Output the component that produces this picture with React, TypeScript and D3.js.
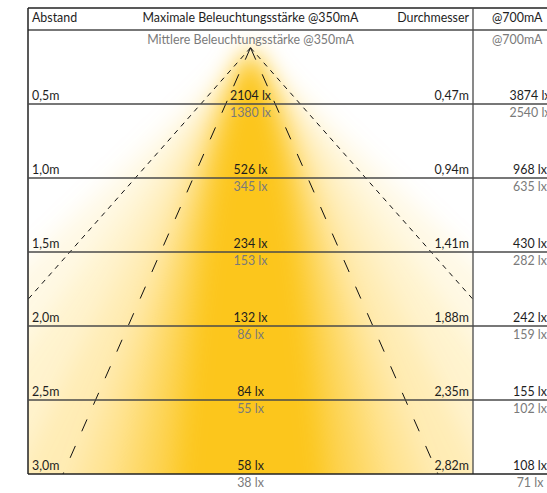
import React from "react";
import * as d3 from "d3";

const distances = ["0,5m", "1,0m", "1,5m", "2,0m", "2,5m", "3,0m"];
const distanceValues = [0.5, 1.0, 1.5, 2.0, 2.5, 3.0];
const max350 = [2104, 526, 234, 132, 84, 58];
const mean350 = [1380, 345, 153, 86, 55, 38];
const diameters = ["0,47m", "0,94m", "1,41m", "1,88m", "2,35m", "2,82m"];
const max700 = [3874, 968, 430, 242, 155, 108];
const mean700 = [2540, 635, 282, 159, 102, 71];

const headerTop = ["Abstand", "Maximale Beleuchtungsstärke @350mA", "Durchmesser", "@700mA"];
const headerSub = ["Mittlere Beleuchtungsstärke @350mA", "@700mA"];

const W = 547;
const H = 493;
const left = 28;
const divider = 473;
const top = 8;
const FONT = "Lato, 'Open Sans', sans-serif";
const DARK = "#1e1e1e";
const GRAY = "#7a7a7a";
const LINE = "#4a4a4a";

// beam glow layers (style): spread factor, exponent, opacity
const beamA = [1.05, 1.0, 1.0, 1.0, 1.3, 1.6, 1.75, 1.85];
const beamP = [1.0, 0.95, 0.9, 0.85, 0.77, 0.7, 0.64, 0.6];
const beamOp = [0.1, 0.1, 0.12, 0.16, 0.22, 0.28, 0.34, 0.5];

export default function App() {
  const y = d3.scaleLinear().domain([0, 3]).range([30, 474]);
  const cx = 250.5;
  const apexY = y(0.12);
  const bottomY = y(3);

  const steps = d3.range(0, 61).map((i) => i * 8);

  const beamArea = (a: number, p: number) =>
    d3
      .area<number>()
      .x0((dy) => cx - a * Math.pow(dy, p))
      .x1((dy) => cx + a * Math.pow(dy, p))
      .y((dy) => apexY + dy)
      .curve(d3.curveBasis)(steps);

  const line = d3.line();
  const outerL = line([[cx, apexY], [left, y(1.82)]]);
  const outerR = line([[cx, apexY], [divider, y(1.82)]]);
  const innerL = line([[cx, apexY], [cx - 187.5, bottomY]]);
  const innerR = line([[cx, apexY], [cx + 187.5, bottomY]]);

  return (
    <svg width={W} height={H} style={{ position: "absolute", left: 0, top: 0, background: "#fff" }}>
      <defs>
        <clipPath id="area">
          <rect x={left} y={y(0)} width={divider - left} height={bottomY - y(0)} />
        </clipPath>
        <filter id="blur" x="-50%" y="-50%" width="200%" height="200%">
          <feGaussianBlur stdDeviation={12} />
        </filter>
      </defs>
      <g clipPath="url(#area)">
        <g filter="url(#blur)">
          {beamA.map((a, i) => (
            <path key={i} d={beamArea(a, beamP[i])!} fill="#fcc000" opacity={beamOp[i]} />
          ))}
        </g>
      </g>
      {/* dashed beam lines */}
      <g fill="none" stroke="#111" strokeWidth={1}>
        <path d={outerL!} strokeDasharray="5 5" />
        <path d={outerR!} strokeDasharray="5 5" />
        <path d={innerL!} strokeDasharray="13 16" />
        <path d={innerR!} strokeDasharray="13 16" />
      </g>
      {/* frame */}
      <line x1={left} x2={W} y1={top} y2={top} stroke="#222" strokeWidth={1.5} />
      <line x1={left} x2={W} y1={y(0)} y2={y(0)} stroke={LINE} strokeWidth={1.3} />
      <line x1={left} x2={left} y1={top} y2={bottomY} stroke="#222" strokeWidth={1.5} />
      <line x1={divider} x2={divider} y1={top} y2={bottomY} stroke={LINE} strokeWidth={1.3} />
      {distanceValues.map((d, i) => (
        <line key={i} x1={left} x2={W} y1={y(d)} y2={y(d)} stroke={i === 5 ? "#222" : LINE} strokeWidth={i === 5 ? 1.6 : 1.3} />
      ))}
      {/* texts */}
      <g fontFamily={FONT} fontSize={12.4}>
        <text x={32} y={22} fill={DARK}>{headerTop[0]}</text>
        <text x={cx} y={22} fill={DARK} textAnchor="middle">{headerTop[1]}</text>
        <text x={469} y={22} fill={DARK} textAnchor="end">{headerTop[2]}</text>
        <text x={492} y={22} fill={DARK}>{headerTop[3]}</text>
        <text x={cx} y={44} fill={GRAY} textAnchor="middle">{headerSub[0]}</text>
        <text x={492} y={44} fill={GRAY}>{headerSub[1]}</text>
        {distanceValues.map((d, i) => (
          <g key={i}>
            <text x={32} y={y(d) - 4} fill={DARK}>{distances[i]}</text>
            <text x={cx} y={y(d) - 4} fill={DARK} textAnchor="middle">{max350[i]} lx</text>
            <text x={cx} y={y(d) + 13} fill={GRAY} textAnchor="middle">{mean350[i]} lx</text>
            <text x={469} y={y(d) - 4} fill={DARK} textAnchor="end">{diameters[i]}</text>
            <text x={530} y={y(d) - 4} fill={DARK} textAnchor="middle">{max700[i]} lx</text>
            <text x={530} y={y(d) + 13} fill={GRAY} textAnchor="middle">{mean700[i]} lx</text>
          </g>
        ))}
      </g>
    </svg>
  );
}
